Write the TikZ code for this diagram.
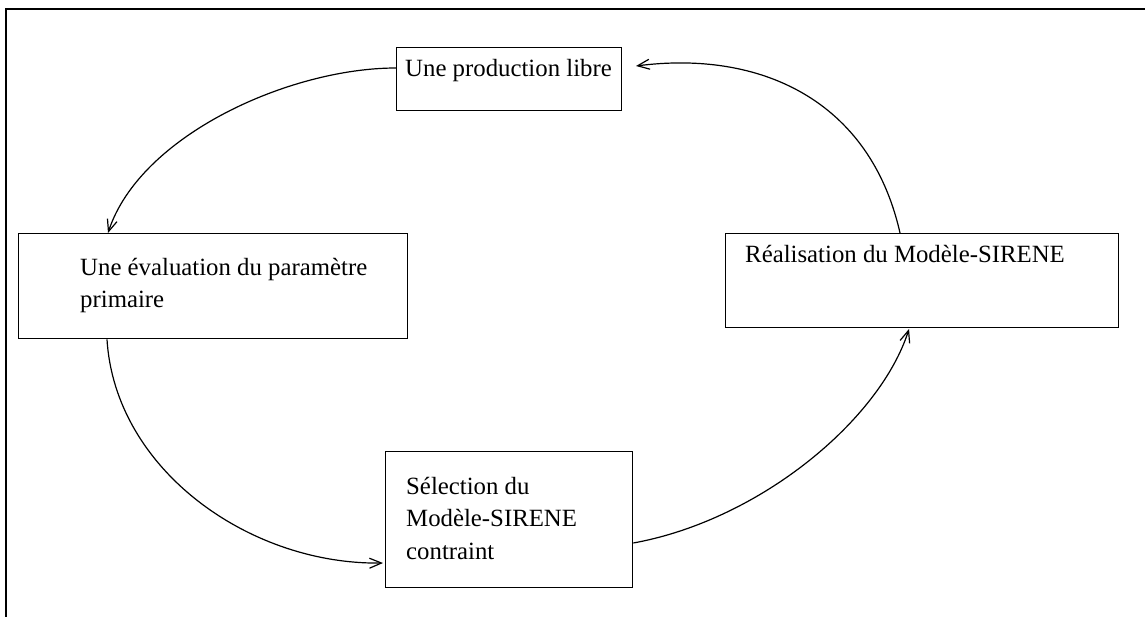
\documentclass[tikz,border=0pt]{standalone}
\usepackage{fontspec}
\setmainfont{Liberation Serif}
\usetikzlibrary{arrows.meta}
\begin{document}
\begin{tikzpicture}[x=1pt,y=-1pt,
  boxnode/.style={draw,line width=1.3pt,inner sep=0pt,anchor=north west},
  txt/.style={anchor=base west,inner sep=0pt,font=\fontsize{24.8}{32.5}\selectfont,align=left},
  conn/.style={line width=1.2pt,-{Straight Barb[length=12pt,width=10pt]}}]
\useasboundingbox (0,0) rectangle (1145,617);
% frame (top and left edges)
\draw[line width=1.8pt] (6,617) -- (6,9) -- (1145,9);
% boxes
\node[boxnode,minimum width=225pt,minimum height=63pt] (b1) at (396,47) {};
\node[boxnode,minimum width=389pt,minimum height=105pt] (b2) at (18,233) {};
\node[boxnode,minimum width=393pt,minimum height=94pt] (b3) at (725,233) {};
\node[boxnode,minimum width=247pt,minimum height=136pt] (b4) at (385,451) {};
% texts (base = baseline of last line)
\node[txt] (t1) at (405,77) {Une production libre};
\node[txt] (t2) at (80,308) {Une évaluation du paramètre\\primaire};
\node[txt] (t3) at (745,263) {Réalisation du Modèle-SIRENE};
\node[txt] (t4) at (406,559) {Sélection du\\Modèle-SIRENE\\contraint};
% connector end points
\coordinate (s1) at (b1.west |- 0,68);
\coordinate (e1) at (b2.north -| 108,0);
\coordinate (s2) at (b2.south -| 107,0);
\coordinate (e2) at (383,563);
\coordinate (s3) at (b4.east |- 0,543);
\coordinate (e3) at (909,329);
\coordinate (s4) at (b3.north -| 900,0);
\coordinate (e4) at (636,66);
% connectors
\draw[conn] (s1) .. controls (290,68) and (140,135) .. (e1);
\draw[conn] (s2) .. controls (115,470) and (250,565) .. (e2);
\draw[conn] (s3) .. controls (760,520) and (880,420) .. (e3);
\draw[conn] (s4) .. controls (870,100) and (760,50) .. (e4);
\end{tikzpicture}
\end{document}
